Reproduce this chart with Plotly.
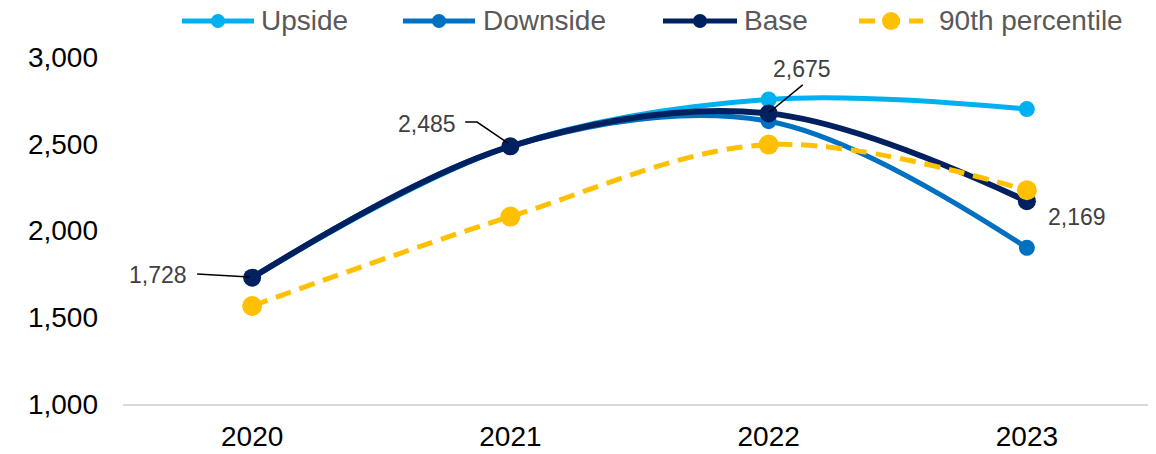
import plotly.graph_objects as go

years = [2020, 2021, 2022, 2023]
upside = [1728, 2485, 2755, 2700]
downside = [1728, 2485, 2630, 1900]
base = [1728, 2485, 2675, 2169]
p90 = [1565, 2080, 2495, 2232]

label_text = ["1,728", "2,485", "2,675", "2,169"]

tick_vals = [1000, 1500, 2000, 2500, 3000]
tick_text = ["1,000", "1,500", "2,000", "2,500", "3,000"]

series_names = ["Upside", "Downside", "Base", "90th percentile"]
series_colors = ["#00B0F0", "#0070C0", "#002060", "#FFC000"]

FONT = "Liberation Sans, Arial, sans-serif"
W, H = 1156, 454
OFF = 8  # page body margin offset
ML, MR, MT, MB = 123 - OFF, OFF, 57 - OFF, H - (404 - OFF)


def px_x(p):
    return (p - OFF - ML) / (W - ML - MR)


def px_y(p):
    return (H - MB - (p - OFF)) / (H - MT - MB)


fig = go.Figure()
styles = [(5, 16, "solid"), (5, 16, "solid"), (6, 18, "solid"), (5, 20, "16px,9px")]
for name, vals, color, (lw, ms, dash) in zip(series_names, [upside, downside, base, p90],
                                             series_colors, styles):
    fig.add_trace(go.Scatter(
        x=years, y=vals, name=name, mode="lines+markers", showlegend=False,
        line=dict(color=color, width=lw, shape="spline", smoothing=1, dash=dash),
        marker=dict(color=color, size=ms),
    ))

# data labels
label_pos = [(2019.637, 1744), (2020.677, 2614), (2022.13, 2931), (2023.193, 2078)]
for (tx, ty), t in zip(label_pos, label_text):
    fig.add_annotation(x=tx, y=ty, text=t, showarrow=False,
                       font=dict(family=FONT, size=23, color="#404040"))

# leader lines
leaders = [
    "M 2019.787 1749 L 2019.99 1732",
    "M 2020.825 2625 L 2020.871 2625 L 2020.991 2504",
    "M 2022.132 2839 L 2022.004 2683",
]
for p in leaders:
    fig.add_shape(type="path", path=p, xref="x", yref="y",
                  line=dict(color="black", width=1.5))

# custom legend (line + marker + text), positions in reference pixels
leg_y = 21
leg_items = [(182, 254, 259), (403, 475, 481), (663, 737, 742), (859, 923, 937)]
for (x0, x1, tx), name, color in zip(leg_items, series_names, series_colors):
    dashed = name == "90th percentile"
    fig.add_shape(type="line", xref="paper", yref="paper",
                  x0=px_x(x0), x1=px_x(x1), y0=px_y(leg_y), y1=px_y(leg_y),
                  line=dict(color=color, width=5, dash="16px,9px" if dashed else "solid"))
    r = 9 if dashed else 7
    fig.add_shape(type="circle", xref="paper", yref="paper",
                  xsizemode="pixel", ysizemode="pixel",
                  xanchor=px_x((x0 + x1) / 2), yanchor=px_y(leg_y),
                  x0=-r, x1=r, y0=-r, y1=r,
                  fillcolor=color, line=dict(color=color, width=0))
    fig.add_annotation(xref="paper", yref="paper", x=px_x(tx), y=px_y(leg_y),
                       xanchor="left", yanchor="middle", text=name, showarrow=False,
                       font=dict(family=FONT, size=28, color="#595959"))

fig.update_layout(
    width=W, height=H,
    margin=dict(l=ML, r=MR, t=MT, b=MB),
    paper_bgcolor="white", plot_bgcolor="white",
    font=dict(family=FONT, color="black"),
    showlegend=False,
    xaxis=dict(range=[2019.5, 2023.5], tickvals=years, ticktext=[str(y) for y in years],
               showgrid=False, zeroline=False, showline=True, linecolor="#D9D9D9",
               linewidth=2, ticks="", tickfont=dict(size=28, color="black"),
               ticklabelstandoff=6, automargin=False),
    yaxis=dict(range=[1000, 3000], tickvals=tick_vals, ticktext=tick_text,
               showgrid=False, zeroline=False, showline=False, ticks="",
               tickfont=dict(size=28, color="black"), ticklabelstandoff=24,
               automargin=False),
)

fig.write_html("out.html")
